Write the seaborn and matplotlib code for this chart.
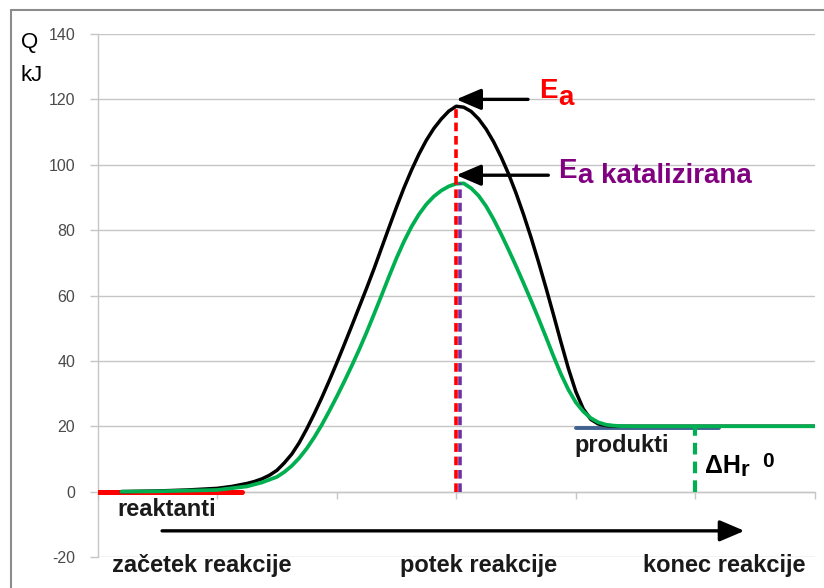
import matplotlib
matplotlib.use("Agg")
import matplotlib.pyplot as plt
import seaborn as sns
import pandas as pd
from matplotlib.lines import Line2D

# ---------------- data ----------------
x_black = [0.2, 0.5, 0.75, 1.0, 1.125, 1.25, 1.3125, 1.375, 1.4375, 1.5, 1.5625, 1.625,
           1.6875, 1.75, 1.8125, 1.875, 1.9375, 2.0, 2.0625, 2.125, 2.1875, 2.25, 2.3125,
           2.375, 2.4375, 2.5, 2.5625, 2.625, 2.6875, 2.75, 2.8125, 2.875, 2.9375, 3.0,
           3.0625, 3.125, 3.1875, 3.25, 3.3125, 3.375, 3.4375, 3.5, 3.5625, 3.625, 3.6875,
           3.75, 3.8125, 3.875, 3.9375, 4.0, 4.0625, 4.125, 4.1875, 4.25, 4.3125, 4.375,
           4.5, 5.0, 6.0]
y_black = [0.0, 0.2, 0.5, 1.0, 1.6, 2.5, 3.1, 3.9, 5.0, 6.5, 8.8, 11.5,
           15.0, 19.2, 23.8, 28.7, 33.9, 39.3, 44.9, 50.6, 56.4, 62.2, 68.2,
           74.5, 80.8, 87.0, 92.9, 98.3, 103.2, 107.5, 111.1, 114.0, 116.4, 117.9,
           117.6, 116.3, 114.0, 110.9, 107.0, 102.4, 97.2, 91.3, 84.8, 77.8, 70.3,
           62.4, 54.2, 45.8, 37.7, 30.6, 25.3, 22.1, 20.7, 20.2, 20.05, 20.0,
           20.0, 20.0, 20.0]

x_green = [0.2, 0.5, 1.0, 1.25, 1.375, 1.5, 1.5625, 1.625, 1.6875, 1.75, 1.8125, 1.875,
           1.9375, 2.0, 2.0625, 2.125, 2.1875, 2.25, 2.3125, 2.375, 2.4375, 2.5, 2.5625,
           2.625, 2.6875, 2.75, 2.8125, 2.875, 2.9375, 3.0, 3.0625, 3.125, 3.1875, 3.25,
           3.3125, 3.375, 3.4375, 3.5, 3.5625, 3.625, 3.6875, 3.75, 3.8125, 3.875, 3.9375,
           4.0, 4.0625, 4.125, 4.1875, 4.25, 4.3125, 4.375, 4.5, 5.0, 6.0]
y_green = [0.0, 0.1, 0.5, 1.6, 2.8, 4.5, 6.0, 7.9, 10.3, 13.2, 16.6, 20.4,
           24.6, 29.0, 33.6, 38.4, 43.4, 48.7, 54.3, 60.0, 65.8, 71.4, 76.5,
           81.0, 84.8, 87.9, 90.3, 92.1, 93.4, 94.2, 94.3, 92.8, 90.5, 87.3,
           83.3, 78.8, 74.0, 69.0, 63.8, 58.5, 53.0, 47.3, 41.5, 36.0, 31.2,
           27.3, 24.5, 22.5, 21.2, 20.5, 20.2, 20.05, 20.0, 20.0, 20.0]

reactant_x = [0.0, 1.21]
reactant_y = [0.0, 0.0]
product_x = [4.0, 5.2]
product_y = [19.4, 19.4]

peak_x = 3.0
ea_peak = 118.0
ea_cat_peak = 94.3
cat_line_x = 3.035
product_level = 20.0
dh_x = 5.0

y_ticks = [-20, 0, 20, 40, 60, 80, 100, 120, 140]
x_ticks = [0, 1, 2, 3, 4, 5, 6]
axis_labels = ["začetek reakcije", "potek reakcije", "konec reakcije"]
axis_label_x = [0.12, 2.53, 4.56]

# ---------------- figure ----------------
sns.set_theme(style="white")
plt.rcParams["font.family"] = ["Liberation Sans", "DejaVu Sans"]

fig = plt.figure(figsize=(8.24, 5.88), dpi=100)
ax = fig.add_axes([97.5 / 824, 1 - 557 / 588, (815 - 97.5) / 824, (557 - 34) / 588])
ax.set_xlim(0, 6)
ax.set_ylim(-20, 140)

grid_c = "#c6c6c6"
for v in y_ticks:
    ax.axhline(v, color=grid_c, linewidth=1.0, zorder=0)

for s in ["top", "right"]:
    ax.spines[s].set_visible(False)
ax.spines["left"].set_color(grid_c)
ax.spines["left"].set_linewidth(1.0)
ax.spines["bottom"].set_position(("data", 0))
ax.spines["bottom"].set_color(grid_c)
ax.spines["bottom"].set_linewidth(1.0)
ax.set_yticks(y_ticks)
ax.set_yticklabels([str(v) for v in y_ticks])
ax.set_xticks(x_ticks)
ax.set_xticklabels([])
ax.tick_params(axis="y", direction="out", length=6, width=1, color=grid_c,
               labelsize=11.5, labelcolor="#4a4a4a", pad=10, left=True)
ax.tick_params(axis="x", direction="out", length=5, width=1, color=grid_c, bottom=True)

# reactant / product levels
df_r = pd.DataFrame({"x": reactant_x, "y": reactant_y})
sns.lineplot(data=df_r, x="x", y="y", color="#ff0000", linewidth=3.6, ax=ax, zorder=3)
df_p = pd.DataFrame({"x": product_x, "y": product_y})
sns.lineplot(data=df_p, x="x", y="y", color="#41628f", linewidth=2.8, ax=ax, zorder=3)

# curves
df_b = pd.DataFrame({"x": x_black, "y": y_black})
sns.lineplot(data=df_b, x="x", y="y", color="black", linewidth=2.5, ax=ax, zorder=3.5)
df_g = pd.DataFrame({"x": x_green, "y": y_green})
sns.lineplot(data=df_g, x="x", y="y", color="#00b050", linewidth=2.7, ax=ax, zorder=4)

# dashed verticals
ax.plot([peak_x, peak_x], [0, ea_peak], color="#ff0000", linewidth=2.6,
        linestyle=(0, (2.4, 1.3)), zorder=5)
ax.plot([cat_line_x, cat_line_x], [0, ea_cat_peak], color="#7030a0", linewidth=2.6,
        linestyle=(0, (2.4, 1.3)), zorder=5)
ax.plot([dh_x, dh_x], [0, product_level], color="#00b050", linewidth=3.0,
        linestyle=(0, (2.8, 1.7)), zorder=5)

ax.set_xlabel("")
ax.set_ylabel("")

# arrows
aprops = dict(arrowstyle="-|>,head_length=0.75,head_width=0.32", color="black",
              lw=2.4, mutation_scale=20, shrinkA=0, shrinkB=0)
ax.annotate("", xy=(3.0, 120), xytext=(3.6, 120), arrowprops=aprops, zorder=6)
ax.annotate("", xy=(3.0, 96.8), xytext=(3.77, 96.8), arrowprops=aprops, zorder=6)
ax.annotate("", xy=(5.41, -12.0), xytext=(0.54, -12.0), arrowprops=aprops,
            annotation_clip=False, zorder=6)

# text labels
bold = dict(fontweight="bold", fontsize=17)
tE = ax.text(3.69, 120.5, "E", color="#ff0000", fontsize=20, fontweight="bold",
             va="baseline", ha="left")
ax.annotate("a", xy=(1, 0), xycoords=tE, xytext=(0.5, -5), textcoords="offset points",
            color="#ff0000", fontsize=20, fontweight="bold", va="bottom", ha="left")
purple = "#800080"
tE2 = ax.text(3.85, 95.9, "E", color=purple, fontsize=20, fontweight="bold",
              va="baseline", ha="left")
ax.annotate("a katalizirana", xy=(1, 0), xycoords=tE2, xytext=(1, -3.5),
            textcoords="offset points", color=purple, fontsize=20, fontweight="bold",
            va="bottom", ha="left")

tH = ax.text(5.08, 5.6, "\u0394H", color="black", fontsize=18, fontweight="bold",
             va="baseline", ha="left")
tr = ax.annotate("r", xy=(1, 0), xycoords=tH, xytext=(0, -2), textcoords="offset points",
                 color="black", fontsize=16, fontweight="bold", va="bottom", ha="left")
ax.annotate("0", xy=(1, 0), xycoords=tr, xytext=(9, 7), textcoords="offset points",
            color="black", fontsize=15, fontweight="bold", va="bottom", ha="left")

ax.text(3.99, 12.0, "produkti", color="#1a1a1a", va="baseline", ha="left", **bold)
ax.text(0.163, -7.6, "reaktanti", color="#1a1a1a", va="baseline", ha="left", **bold)
for lx, lab in zip(axis_label_x, axis_labels):
    ax.text(lx, -24.6, lab, color="#1a1a1a", va="baseline", ha="left",
            clip_on=False, **bold)

fig.text(21 / 824, 1 - 48 / 588, "Q", fontsize=16, color="black", va="baseline")
fig.text(21 / 824, 1 - 81 / 588, "kJ", fontsize=16, color="black", va="baseline")

# outer frame
fig.add_artist(Line2D([10.5 / 824, 10.5 / 824], [0, 1 - 9.5 / 588], transform=fig.transFigure,
                      color="#8c8c8c", linewidth=1.5))
fig.add_artist(Line2D([10.5 / 824, 1], [1 - 9.5 / 588, 1 - 9.5 / 588], transform=fig.transFigure,
                      color="#8c8c8c", linewidth=1.5))

fig.savefig("out.png", dpi=100)
